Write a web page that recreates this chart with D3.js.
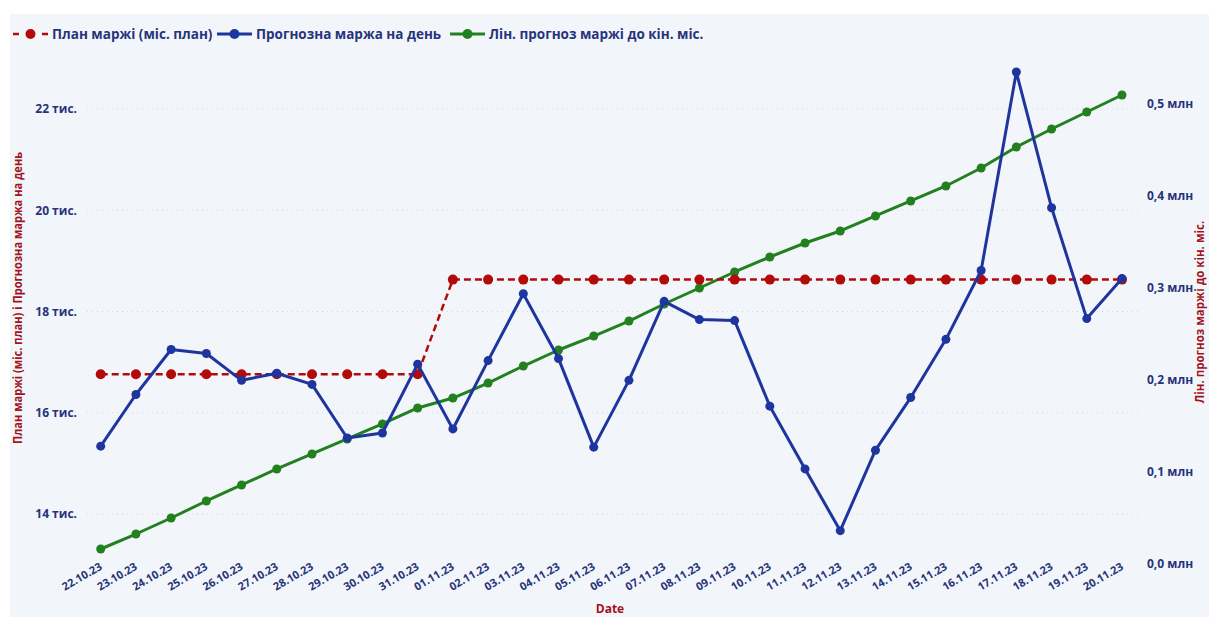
<!DOCTYPE html>
<html>
<head>
<meta charset="utf-8">
<script src="https://cdn.jsdelivr.net/npm/d3@7"></script>
<style>
  body { margin: 0; background: #ffffff; }
  #chart text { font-family: "Open Sans", "DejaVu Sans", sans-serif; }
</style>
</head>
<body>
<div id="chart"></div>
<script>
/** data. */
let dates = ['22.10.23', '23.10.23', '24.10.23', '25.10.23', '26.10.23', '27.10.23', '28.10.23', '29.10.23',
  '30.10.23', '31.10.23', '01.11.23', '02.11.23', '03.11.23', '04.11.23', '05.11.23', '06.11.23', '07.11.23',
  '08.11.23', '09.11.23', '10.11.23', '11.11.23', '12.11.23', '13.11.23', '14.11.23', '15.11.23', '16.11.23',
  '17.11.23', '18.11.23', '19.11.23', '20.11.23'];

let planMargin = [16760, 16760, 16760, 16760, 16760, 16760, 16760, 16760, 16760, 16760,
  18630, 18630, 18630, 18630, 18630, 18630, 18630, 18630, 18630, 18630,
  18630, 18630, 18630, 18630, 18630, 18630, 18630, 18630, 18630, 18630];

let dayForecast = [15340, 16360, 17250, 17170, 16640, 16780, 16560, 15500, 15600, 16960,
  15680, 17030, 18350, 17070, 15320, 16640, 18200, 17840, 17820, 16130,
  14890, 13670, 15260, 16300, 17450, 18810, 22730, 20050, 17860, 18650];

let linForecast = [16300, 32600, 50000, 68500, 85900, 103300, 119600, 135900, 152200, 169600,
  180400, 196700, 215200, 232600, 247800, 264100, 282600, 300000, 317400, 333700,
  348900, 362000, 378300, 394600, 410900, 430400, 453300, 472800, 491300, 509800];

let leftTicks = [14000, 16000, 18000, 20000, 22000];
let rightTicks = [0, 100000, 200000, 300000, 400000, 500000];

let legendItems = [
  { name: 'План маржі (міс. план)', color: '#b30a0a', dash: '6,23,6' },
  { name: 'Прогнозна маржа на день', color: '#1f359e', dash: null },
  { name: 'Лін. прогноз маржі до кін. міс.', color: '#22801f', dash: null }
];

/** set up sizes. */
let width = 1209;
let height = 617;
let navy = '#27337a';
let titleRed = '#a3131a';

let svg = d3
  .select('#chart')
  .append('svg')
  .attr('width', width)
  .attr('height', height)

svg.append('rect')
  .attr('x', 10)
  .attr('y', 14)
  .attr('width', width - 10)
  .attr('height', height - 14)
  .attr('fill', '#f2f6fb')

/** scales. */
let x = d3.scalePoint()
  .domain(dates)
  .range([100.7, 1122])

let yLeft = d3.scaleLinear()
  .domain([13091, 22968])
  .range([560, 60])

let yRight = d3.scaleLinear()
  .domain([4348, 547826])
  .range([560, 60])

/** gridlines from the left axis. */
svg.append('g')
  .selectAll('line')
  .data(leftTicks)
  .enter()
  .append('line')
  .attr('x1', 87)
  .attr('x2', 1140)
  .attr('y1', d => yLeft(d))
  .attr('y2', d => yLeft(d))
  .attr('stroke', '#d5dae2')
  .attr('stroke-width', 1)
  .attr('stroke-dasharray', '1,4')

/** axes. */
let leftAxis = svg.append('g')
  .attr('transform', 'translate(87,0)')
  .call(d3.axisLeft(yLeft).tickValues(leftTicks).tickSize(0).tickPadding(10)
    .tickFormat(d => (d / 1000) + ' тис.'))

let rightAxis = svg.append('g')
  .attr('transform', 'translate(1137,0)')
  .call(d3.axisRight(yRight).tickValues(rightTicks).tickSize(0).tickPadding(10)
    .tickFormat(d => (d / 1e6).toFixed(1).replace('.', ',') + ' млн'))

let bottomAxis = svg.append('g')
  .attr('transform', 'translate(0,566)')
  .call(d3.axisBottom(x).tickSize(0).tickPadding(0))

svg.selectAll('.domain').remove()

leftAxis.selectAll('text')
  .style('font-size', '12px')
  .style('font-weight', 700)
  .attr('fill', navy)

rightAxis.selectAll('text')
  .style('font-size', '12px')
  .style('font-weight', 700)
  .attr('fill', navy)

bottomAxis.selectAll('text')
  .style('font-size', '11px')
  .style('font-weight', 700)
  .attr('fill', navy)
  .attr('text-anchor', 'end')
  .attr('dy', '0.3em')
  .attr('transform', 'translate(0,0) rotate(-30)')

/** axis titles. */
svg.append('text')
  .attr('transform', 'translate(22,298) rotate(-90)')
  .attr('text-anchor', 'middle')
  .attr('fill', titleRed)
  .style('font-size', '12px')
  .style('font-weight', 700)
  .attr('textLength', 292)
  .attr('lengthAdjust', 'spacingAndGlyphs')
  .text('План маржі (міс. план) і Прогнозна маржа на день')

// right title sits at the very edge, keep descenders inside
svg.append('text')
  .attr('transform', 'translate(1204,312) rotate(-90)')
  .attr('text-anchor', 'middle')
  .attr('fill', titleRed)
  .style('font-size', '11.5px')
  .style('font-weight', 700)
  .text('Лін. прогноз маржі до кін. міс.')

svg.append('text')
  .attr('x', 610)
  .attr('y', 613)
  .attr('text-anchor', 'middle')
  .attr('fill', titleRed)
  .style('font-size', '12px')
  .style('font-weight', 700)
  .text('Date')

/** draw the series. */
let drawSeries = function (values, yScale, color, dash, r) {
  let line = d3.line()
    .x((d, i) => x(dates[i]))
    .y(d => yScale(d))

  svg.append('path')
    .datum(values)
    .attr('d', line)
    .attr('fill', 'none')
    .attr('stroke', color)
    .attr('stroke-width', dash ? 2.5 : 3)
    .attr('stroke-dasharray', dash)
    .attr('stroke-linejoin', 'round')

  svg.append('g')
    .selectAll('circle')
    .data(values)
    .enter()
    .append('circle')
    .attr('cx', (d, i) => x(dates[i]))
    .attr('cy', d => yScale(d))
    .attr('r', r)
    .attr('fill', color)
}

drawSeries(linForecast, yRight, legendItems[2].color, null, 4.5)
drawSeries(planMargin, yLeft, legendItems[0].color, '7,4', 5)
drawSeries(dayForecast, yLeft, legendItems[1].color, null, 4.5)

/** legend. */
let legendX = [13, 217, 450];
let legend = svg.append('g')
  .selectAll('g')
  .data(legendItems)
  .enter()
  .append('g')
  .attr('transform', (d, i) => `translate(${legendX[i]},34)`)

legend.append('line')
  .attr('x1', 0)
  .attr('x2', 35)
  .attr('stroke', d => d.color)
  .attr('stroke-width', d => d.dash ? 2.5 : 3)
  .attr('stroke-dasharray', d => d.dash)

legend.append('circle')
  .attr('cx', 17.5)
  .attr('r', 5)
  .attr('fill', d => d.color)

legend.append('text')
  .attr('x', 39)
  .attr('dy', '0.35em')
  .attr('fill', navy)
  .style('font-size', '13.5px')
  .style('font-weight', 700)
  .text(d => d.name)
</script>
</body>
</html>
